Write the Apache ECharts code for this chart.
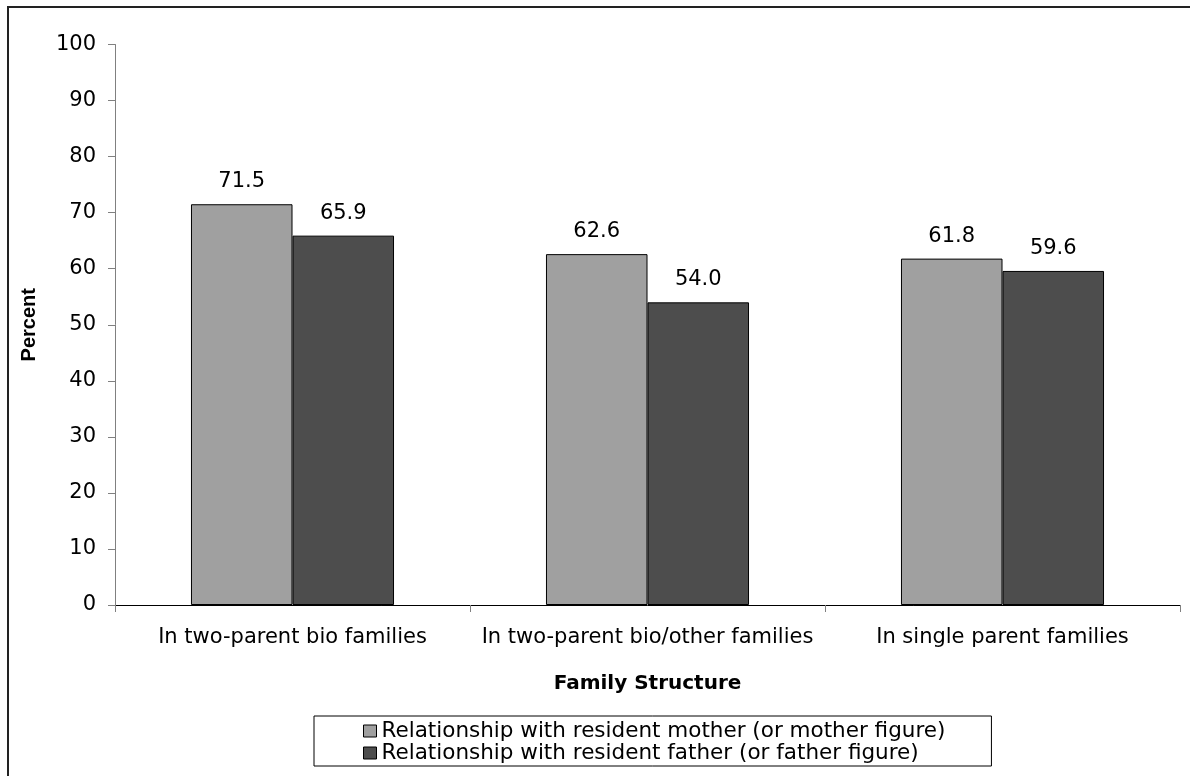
<!DOCTYPE html>
<html>
<head>
<meta charset="utf-8">
<script src="https://cdn.jsdelivr.net/npm/echarts@6/dist/echarts.min.js"></script>
<style>
html,body{margin:0;padding:0;background:#fff;}
#chart{width:1190px;height:776px;}
</style>
</head>
<body>
<div id="chart"></div>
<script>
const categories = ['In two-parent bio families', 'In two-parent bio/other families', 'In single parent families'];
const motherValues = [71.5, 62.6, 61.8];
const fatherValues = [65.9, 54.0, 59.6];
const seriesNames = ['Relationship with resident mother (or mother figure)', 'Relationship with resident father (or father figure)'];
const yTicks = [0, 10, 20, 30, 40, 50, 60, 70, 80, 90, 100];

const FONT = '"DejaVu Sans", "Liberation Sans", Arial, sans-serif';
const FONT_V = '"Liberation Sans", Arial, sans-serif';
const chart = echarts.init(document.getElementById('chart'), null, {renderer: 'canvas'});

const labelOpt = {
  show: true,
  position: 'top',
  distance: 12,
  color: '#000',
  fontFamily: FONT,
  fontSize: 21,
  formatter: p => p.value.toFixed(1)
};

chart.setOption({
  backgroundColor: '#fff',
  animation: false,
  graphic: [{
    type: 'rect',
    shape: {x: 8, y: 7, width: 1400, height: 1000},
    style: {fill: 'none', stroke: '#222', lineWidth: 2},
    silent: true,
    z: 100
  }],
  grid: {left: 115, right: 10, top: 44.5, bottom: 171, containLabel: false},
  legend: {
    orient: 'vertical',
    left: 314,
    top: 716,
    data: seriesNames,
    itemWidth: 13,
    itemHeight: 12,
    itemGap: 0,
    padding: [4, 46, 2, 49],
    borderColor: '#000',
    borderWidth: 1,
    borderRadius: 0,
    icon: 'rect',
    itemStyle: {borderColor: '#000', borderWidth: 1},
    textStyle: {color: '#000', fontFamily: FONT, fontSize: 21.5, lineHeight: 19}
  },
  xAxis: {
    type: 'category',
    data: categories,
    name: 'Family Structure',
    nameLocation: 'middle',
    nameGap: 69,
    nameTextStyle: {color: '#000', fontFamily: FONT, fontSize: 20, fontWeight: 'bold'},
    axisLine: {lineStyle: {color: '#000', width: 1}},
    axisTick: {show: true, length: 7, lineStyle: {color: '#808080'}},
    axisLabel: {color: '#000', fontFamily: FONT, fontSize: 21, margin: 22, interval: 0}
  },
  yAxis: {
    type: 'value',
    min: 0,
    max: 100,
    interval: 10,
    name: 'Percent',
    nameLocation: 'middle',
    nameGap: 76,
    nameTextStyle: {color: '#000', fontFamily: FONT_V, fontSize: 20, fontWeight: 'bold'},
    axisLine: {show: true, lineStyle: {color: '#808080', width: 1}},
    axisTick: {show: true, length: 7, lineStyle: {color: '#808080'}},
    splitLine: {show: false},
    axisLabel: {color: '#000', fontFamily: FONT, fontSize: 21, margin: 19,
      formatter: v => yTicks.includes(v) ? String(v) : ''}
  },
  series: [{
    name: seriesNames[0],
    type: 'bar',
    data: motherValues,
    barGap: '0%',
    barCategoryGap: '42.8%',
    itemStyle: {color: '#a0a0a0', borderColor: '#000', borderWidth: 1},
    label: labelOpt
  }, {
    name: seriesNames[1],
    type: 'bar',
    data: fatherValues,
    itemStyle: {color: '#4d4d4d', borderColor: '#000', borderWidth: 1},
    label: labelOpt
  }]
});
</script>
</body>
</html>
